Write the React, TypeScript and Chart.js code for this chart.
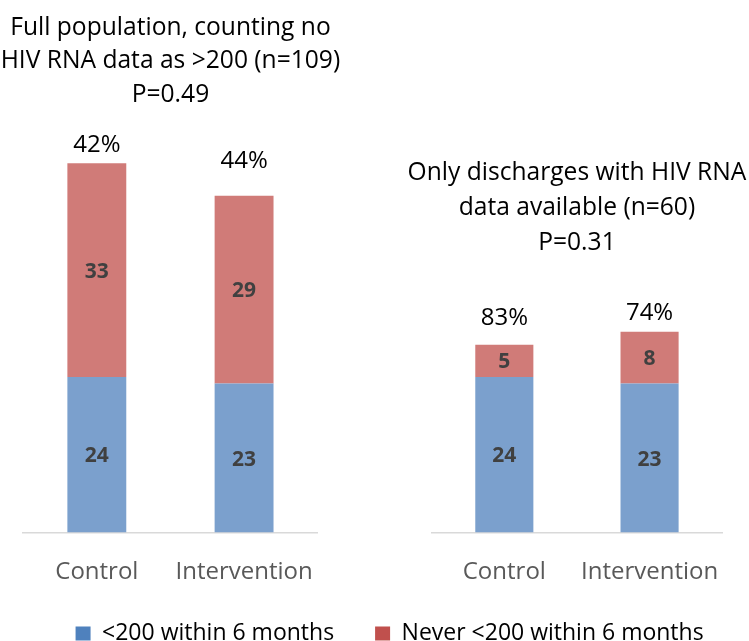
import React, { useEffect, useRef } from "react";
import { Chart, registerables } from "chart.js";

Chart.register(...registerables);

// ---- data ----
const categories = ["Control", "Intervention"];
const seriesNames = ["<200 within 6 months", "Never <200 within 6 months"];

const fullBelow200 = [24, 23];
const fullNever200 = [33, 29];
const fullTitle = ["Full population, counting no", "HIV RNA data as >200 (n=109)", "P=0.49"];

const availBelow200 = [24, 23];
const availNever200 = [5, 8];
const availTitle = ["Only discharges with HIV RNA", "data available (n=60)", "P=0.31"];

// ---- styling ----
const FONT = "'Open Sans', sans-serif";
const BAR_BLUE = "#7BA0CD";
const BAR_RED = "#D07B78";
const KEY_BLUE = "#4F81BD";
const KEY_RED = "#C0504D";

const Y_MAX = 80;
const PAD_TOP = 14.3;
const AXIS_H = 48.5;

const panelText = {
  id: "panelText",
  afterDatasetsDraw(chart: any, _args: any, opts: any) {
    const { ctx, chartArea } = chart;
    const ds = chart.data.datasets;
    ctx.save();
    ctx.textAlign = "center";
    ctx.textBaseline = "alphabetic";
    ctx.fillStyle = "#000000";
    ctx.font = `${opts.titleSize}px ${FONT}`;
    const cx = (chartArea.left + chartArea.right) / 2;
    opts.title.forEach((line: string, i: number) =>
      ctx.fillText(line, cx, opts.titleY + i * opts.titleStep)
    );
    // share reaching <200 above each bar
    ctx.font = `24px ${FONT}`;
    chart.getDatasetMeta(1).data.forEach((bar: any, i: number) => {
      const a = ds[0].data[i];
      const b = ds[1].data[i];
      const pct = Math.round((100 * a) / (a + b));
      ctx.fillText(`${pct}%`, bar.x, bar.y - opts.pctGap[i]);
    });
    // segment values
    const vSize = 21;
    ctx.font = `bold ${vSize}px ${FONT}`;
    ctx.fillStyle = "#404040";
    const cap = vSize * 0.714;
    [0, 1].forEach((d) =>
      chart.getDatasetMeta(d).data.forEach((bar: any, i: number) => {
        ctx.fillText(String(ds[d].data[i]), bar.x, (bar.y + bar.base) / 2 + cap / 2);
      })
    );
    ctx.restore();
  },
};

function makeConfig(
  below: number[],
  never: number[],
  textOpts: any,
  padding: any,
  withLegend: boolean,
  spacer: number
): any {
  const scales: any = {
    x: {
      stacked: true,
      offset: true,
      grid: { display: false, drawTicks: false },
      border: { display: true, color: "#D9D9D9", width: 1.5 },
      ticks: { color: "#595959", font: { family: FONT, size: 24 }, padding: 25 },
      afterFit: (s: any) => {
        s.height = AXIS_H;
      },
    },
    y: { stacked: true, display: false, min: 0, max: Y_MAX },
  };
  if (spacer > 0) {
    scales.yPad = {
      type: "linear",
      position: "right",
      display: true,
      grid: { display: false, drawTicks: false },
      border: { display: false },
      ticks: { display: false },
      afterFit: (s: any) => {
        s.width = spacer;
      },
    };
  }
  return {
    type: "bar",
    data: {
      labels: categories,
      datasets: [
        { label: seriesNames[0], data: below, backgroundColor: BAR_BLUE, keyColor: KEY_BLUE },
        { label: seriesNames[1], data: never, backgroundColor: BAR_RED, keyColor: KEY_RED },
      ],
    },
    options: {
      animation: false,
      responsive: false,
      maintainAspectRatio: false,
      devicePixelRatio: 1,
      layout: { padding },
      datasets: { bar: { categoryPercentage: 1, barPercentage: 0.4 } },
      scales,
      plugins: {
        tooltip: { enabled: false },
        title: { display: false },
        legend: {
          display: withLegend,
          position: "bottom",
          align: "center",
          labels: {
            font: { family: FONT, size: 23 },
            color: "#000000",
            boxWidth: 15,
            boxHeight: 14,
            padding: 41,
            generateLabels: (chart: any) =>
              chart.data.datasets.map((d: any, i: number) => ({
                text: d.label,
                fillStyle: d.keyColor,
                strokeStyle: d.keyColor,
                lineWidth: 0,
                hidden: false,
                datasetIndex: i,
              })),
          },
        },
        panelText: textOpts,
      },
    },
    plugins: [panelText],
  };
}

export default function App() {
  const aRef = useRef<HTMLCanvasElement>(null);
  const bRef = useRef<HTMLCanvasElement>(null);

  useEffect(() => {
    const a = new Chart(
      aRef.current as HTMLCanvasElement,
      makeConfig(
        fullBelow200,
        fullNever200,
        { title: fullTitle, titleSize: 24.6, titleY: 34.5, titleStep: 33.7, pctGap: [11.6, 28] },
        { top: PAD_TOP, left: 23.2, right: 0, bottom: 0 },
        true,
        438.3
      )
    );
    const b = new Chart(
      bRef.current as HTMLCanvasElement,
      makeConfig(
        availBelow200,
        availNever200,
        { title: availTitle, titleSize: 24.6, titleY: 180, titleStep: 35, pctGap: [20, 11.7] },
        { top: PAD_TOP, left: 31.7, right: 23.3, bottom: 0 },
        false,
        0
      )
    );
    return () => {
      a.destroy();
      b.destroy();
    };
  }, []);

  return (
    <div
      style={{
        position: "fixed",
        left: 0,
        top: 0,
        width: 749,
        height: 641,
        overflow: "hidden",
        background: "#ffffff",
      }}
    >
      <canvas
        ref={aRef}
        width={756}
        height={655}
        style={{ position: "absolute", left: 0, top: 0, width: 756, height: 655 }}
      />
      <canvas
        ref={bRef}
        width={349}
        height={581}
        style={{ position: "absolute", left: 400, top: 0, width: 349, height: 581 }}
      />
    </div>
  );
}
